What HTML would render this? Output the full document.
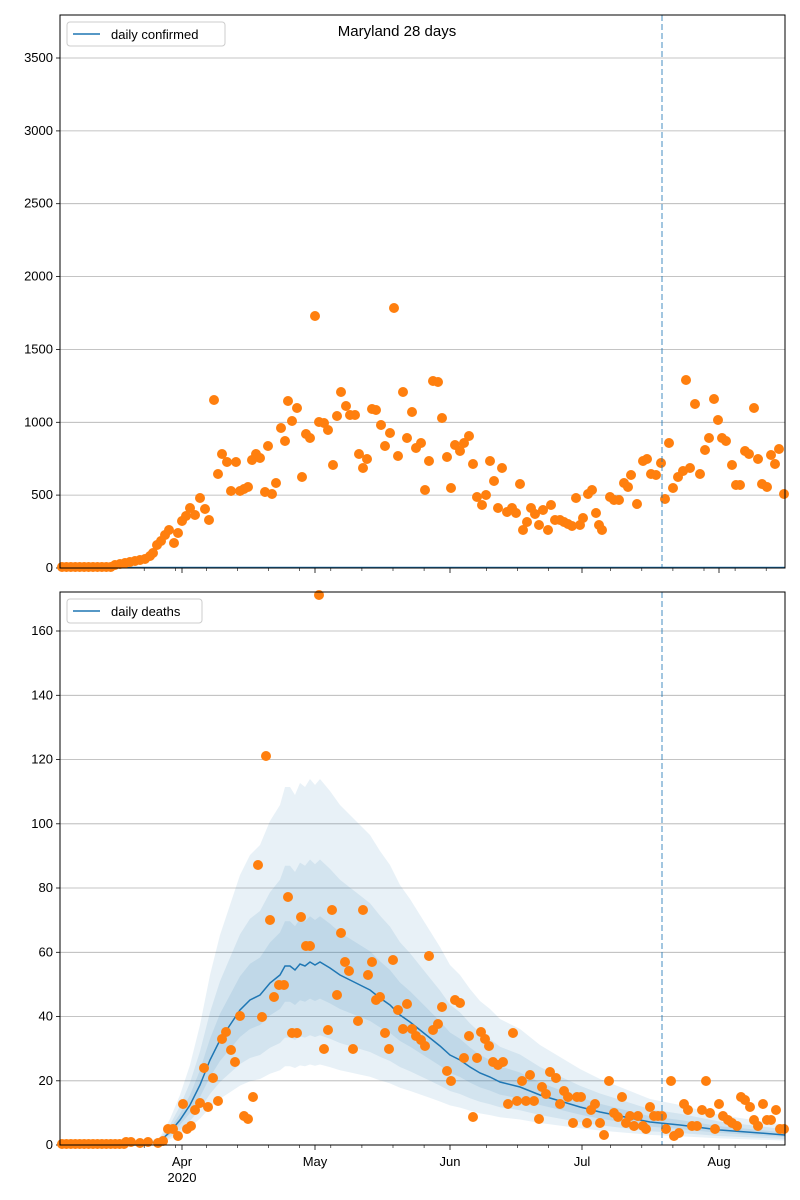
<!DOCTYPE html>
<html><head><meta charset="utf-8"><style>
body{margin:0;background:#fff}
svg{display:block;font-family:"Liberation Sans","DejaVu Sans",sans-serif}
</style></head><body>
<svg id="s" width="800" height="1200" xmlns="http://www.w3.org/2000/svg"></svg>
<script>
(function(){
const s=document.getElementById('s');let h='';
const L=60,R=785;
function axes(t,b,ticks,labels){
  ticks.forEach(([y,l])=>{h+=`<line x1="${L}" x2="${R}" y1="${y}" y2="${y}" stroke="#b0b0b0" stroke-width="0.8"/>`;
    h+=`<line x1="${L-4}" x2="${L}" y1="${y}" y2="${y}" stroke="#000" stroke-width="0.8"/>`;
    h+=`<text x="${L-7}" y="${y+4}" font-size="13" text-anchor="end">${l}</text>`;});
  const maj=[182,315,450,582,719];
  maj.forEach(x=>h+=`<line x1="${x}" x2="${x}" y1="${b}" y2="${b+5}" stroke="#000" stroke-width="0.8"/>`);
  for(let x=82;x<R;x+=31.1){if(maj.some(m=>Math.abs(m-x)<6))continue;h+=`<line x1="${x}" x2="${x}" y1="${b}" y2="${b+3}" stroke="#000" stroke-width="0.6"/>`;}
  if(labels){const n=['Apr','May','Jun','Jul','Aug'];maj.forEach((x,i)=>h+=`<text x="${x}" y="${b+21}" font-size="13" text-anchor="middle">${n[i]}</text>`);
    h+=`<text x="182" y="${b+37}" font-size="13" text-anchor="middle">2020</text>`;}
}
function frame(t,b,leg,w){
  h+=`<line x1="662" x2="662" y1="${t}" y2="${b}" stroke="#1f77b4" stroke-opacity="0.55" stroke-width="1.5" stroke-dasharray="6,3"/>`;
  h+=`<rect x="${L}" y="${t}" width="${R-L}" height="${b-t}" fill="none" stroke="#000" stroke-width="1"/>`;
  h+=`<rect x="67" y="${t+7}" width="${w}" height="24" rx="3" fill="#fff" fill-opacity="0.8" stroke="#ccc"/>`;
  h+=`<line x1="73" x2="100" y1="${t+19}" y2="${t+19}" stroke="#1f77b4" stroke-width="1.5"/>`;
  h+=`<text x="111" y="${t+24}" font-size="13">${leg}</text>`;
}
function dot(x,y){h+=`<circle cx="${x}" cy="${y}" r="5" fill="#ff7f0e"/>`;}
axes(15,568,[[568,0],[495.1,500],[422.3,1000],[349.4,1500],[276.6,2000],[203.7,2500],[130.9,3000],[58,3500]],false);
h+=`<line x1="${L}" x2="${R}" y1="567.5" y2="567.5" stroke="#1f77b4" stroke-width="1.5"/>`;
for(let x=62;x<113;x+=4.43)dot(x,567);
const topPts=[[115,565],[120,564],[125,563],[130,562],[135,561],[140,560],[145,559],[150,556],[153,553],[157,545],[161,541],[165,535],[169,530],[174,543],[178,533],[182,521],[186,516],[190,508],[195,515],[200,498],[205,509],[209,520],[214,400],[218,474],[222,454],[227,462],[231,491],[236,462],[240,491],[244,489],[248,487],[252,460],[256,454],[260,458],[265,492],[268,446],[272,494],[276,483],[281,428],[285,441],[288,401],[292,421],[297,408],[302,477],[306,434],[310,438],[315,316],[319,422],[324,423],[328,430],[333,465],[337,416],[341,392],[346,406],[350,415],[355,415],[359,454],[363,468],[367,459],[372,409],[376,410],[381,425],[385,446],[390,433],[394,308],[398,456],[403,392],[407,438],[412,412],[416,448],[421,443],[425,490],[429,461],[433,381],[438,382],[442,418],[447,457],[451,488],[455,445],[460,451],[464,443],[469,436],[473,464],[477,497],[482,505],[486,495],[490,461],[494,481],[498,508],[502,468],[507,512],[512,508],[516,513],[520,484],[523,530],[527,522],[531,508],[535,514],[539,525],[543,510],[548,530],[551,505],[555,520],[560,520],[564,522],[568,524],[572,526],[576,498],[580,525],[583,518],[588,494],[592,490],[596,513],[599,525],[602,530],[610,497],[614,500],[619,500],[624,483],[628,487],[631,475],[637,504],[643,461],[647,459],[651,474],[656,475],[661,463],[665,499],[669,443],[673,488],[678,477],[683,471],[686,380],[690,468],[695,404],[700,474],[705,450],[709,438],[714,399],[718,420],[722,438],[726,441],[732,465],[736,485],[740,485],[745,451],[749,454],[754,408],[758,459],[762,484],[767,487],[771,455],[775,464],[779,449],[784,494]];
topPts.forEach(p=>dot(p[0],p[1]));
frame(15,568,'daily confirmed',158);
h+=`<text x="397" y="36" font-size="15" text-anchor="middle">Maryland 28 days</text>`;
const B=1145;
axes(592,B,[[1145,0],[1080.8,20],[1016.5,40],[952.3,60],[888,80],[823.8,100],[759.5,120],[695.3,140],[631,160]],true);
const mean=[[60,1145],[140,1145],[160,1141],[170,1132],[180,1120],[190,1105],[200,1085],[210,1060],[220,1040],[230,1025],[240,1010],[250,1000],[260,995],[270,983],[280,975],[285,966],[290,966],[295,970],[300,964],[305,966],[310,962],[315,965],[320,962],[330,968],[340,975],[350,980],[360,985],[370,990],[380,998],[390,1005],[400,1015],[410,1022],[420,1030],[430,1038],[440,1046],[450,1055],[460,1060],[470,1067],[480,1073],[490,1077],[500,1082],[520,1087],[540,1095],[560,1101],[580,1107],[600,1112],[620,1116],[650,1122],[680,1125],[720,1130],[760,1133],[785,1135]];
function band(lo,hi){let up=mean.map(([x,y])=>`${x},${B-(B-y)*hi}`),dn=mean.slice().reverse().map(([x,y])=>`${x},${B-(B-y)*lo}`);
  h+=`<polygon points="${up.concat(dn).join(' ')}" fill="#1f77b4" fill-opacity="0.1"/>`;}
band(0.44,2.0);band(0.6,1.56);band(0.8,1.25);
h+=`<polyline points="${mean.map(p=>p.join(',')).join(' ')}" fill="none" stroke="#1f77b4" stroke-width="1.5"/>`;
for(let x=62;x<125;x+=4.43)dot(x,1144);
const bot=[[126,1142],[131,1142],[140,1143],[148,1142],[158,1143],[163,1141],[168,1129],[173,1129],[178,1136],[183,1104],[187,1129],[191,1126],[195,1110],[200,1103],[204,1068],[208,1107],[213,1078],[218,1101],[222,1039],[226,1032],[231,1050],[235,1062],[240,1016],[244,1116],[248,1119],[253,1097],[258,865],[262,1017],[266,756],[270,920],[274,997],[279,985],[284,985],[288,897],[292,1033],[297,1033],[301,917],[306,946],[310,946],[319,595],[324,1049],[328,1030],[332,910],[337,995],[341,933],[345,962],[349,971],[353,1049],[358,1021],[363,910],[368,975],[372,962],[376,1000],[380,997],[385,1033],[389,1049],[393,960],[398,1010],[403,1029],[407,1004],[412,1029],[416,1036],[421,1040],[425,1046],[429,956],[433,1030],[438,1024],[442,1007],[447,1071],[451,1081],[455,1000],[460,1003],[464,1058],[469,1036],[473,1117],[477,1058],[481,1032],[485,1039],[489,1046],[493,1062],[498,1065],[503,1062],[508,1104],[513,1033],[517,1101],[522,1081],[526,1101],[530,1075],[534,1101],[539,1119],[542,1087],[546,1094],[550,1072],[556,1078],[560,1104],[564,1091],[568,1097],[573,1123],[577,1097],[581,1097],[587,1123],[591,1110],[595,1104],[600,1123],[604,1135],[609,1081],[614,1113],[618,1117],[622,1097],[626,1123],[630,1116],[634,1126],[638,1116],[643,1126],[646,1129],[650,1107],[654,1116],[658,1116],[662,1116],[666,1129],[671,1081],[674,1136],[679,1133],[684,1104],[688,1110],[692,1126],[697,1126],[702,1110],[706,1081],[710,1113],[715,1129],[719,1104],[723,1116],[728,1120],[732,1123],[737,1126],[741,1097],[745,1100],[750,1107],[754,1120],[758,1126],[763,1104],[767,1120],[771,1120],[776,1110],[780,1129],[784,1129]];
bot.forEach(p=>dot(p[0],p[1]));
frame(592,B,'daily deaths',135);
s.innerHTML=h;
})();
</script>
</body></html>
